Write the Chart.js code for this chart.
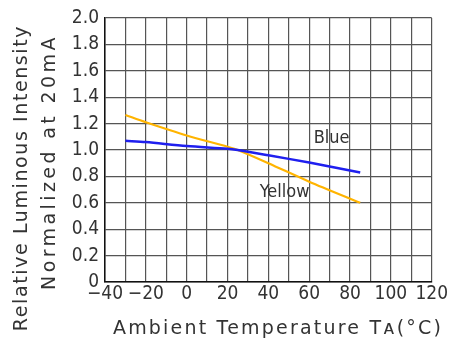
<!DOCTYPE html>
<html lang="en">
<head>
    <meta charset="UTF-8">
    <title>Relative Luminous Intensity vs Ambient Temperature</title>
    <script src="https://cdn.jsdelivr.net/npm/chart.js"></script>
    <style>
        html, body { margin: 0; padding: 0; background: #fff; }
        #wrap { width: 449px; height: 338px; }
    </style>
</head>
<body>
    <div id="wrap"><canvas id="myChart"></canvas></div>

    <script>
        // Data
        const temps = [-30, -20, 0, 20, 25, 40, 60, 85];
        const blueValues = [1.07, 1.06, 1.03, 1.01, 1.0, 0.96, 0.905, 0.83];
        const yellowValues = [1.265, 1.21, 1.11, 1.025, 1.0, 0.90, 0.76, 0.60];
        const xTickLabels = [-40, -20, 0, 20, 40, 60, 80, 100, 120];
        const yTickLabels = [0, 0.2, 0.4, 0.6, 0.8, 1.0, 1.2, 1.4, 1.6, 1.8, 2.0];
        const seriesNames = ['Blue', 'Yellow'];
        const labelSpots = [[71, 1.09], [48, 0.68]];

        const tickFont = { family: "'Liberation Sans Narrow', 'DejaVu Sans Condensed', sans-serif", size: 19 };
        const textColor = '#333';

        // axis titles and curve names, drawn on top
        const textPlugin = {
            id: 'texts',
            afterDraw(chart) {
                const c = chart.ctx;
                const xs = chart.scales.x, ys = chart.scales.y;
                c.save();
                c.fillStyle = textColor;
                c.textAlign = 'center';
                c.textBaseline = 'middle';
                c.font = "19px 'DejaVu Sans', sans-serif";
                c.letterSpacing = '2.2px';
                c.fillText('Ambient Temperature T\u1D00(\u00B0C)', 278, 329);

                c.translate(22, 178);
                c.rotate(-Math.PI / 2);
                c.letterSpacing = '1.6px';
                c.fillText('Relative Luminous Intensity', 0, 0);
                c.letterSpacing = '3.4px';
                c.fillText('Normalized at 20mA', 16, 28);
                c.restore();

                c.save();
                c.fillStyle = textColor;
                c.textAlign = 'center';
                c.textBaseline = 'middle';
                c.font = "18px 'Liberation Sans Narrow', 'DejaVu Sans Condensed', sans-serif";
                seriesNames.forEach((n, i) => {
                    c.fillText(n, xs.getPixelForValue(labelSpots[i][0]), ys.getPixelForValue(labelSpots[i][1]));
                });
                c.restore();
            }
        };

        const ctx = document.getElementById('myChart').getContext('2d');
        const myChart = new Chart(ctx, {
            type: 'line',
            data: {
                datasets: [{
                    label: 'Blue',
                    data: temps.map((t, i) => ({ x: t, y: blueValues[i] })),
                    borderColor: '#1f1fef',
                    borderWidth: 2.5,
                    pointRadius: 0,
                    tension: 0.3
                }, {
                    label: 'Yellow',
                    data: temps.map((t, i) => ({ x: t, y: yellowValues[i] })),
                    borderColor: '#ffb400',
                    borderWidth: 2.2,
                    pointRadius: 0,
                    tension: 0.3
                }]
            },
            options: {
                responsive: true,
                maintainAspectRatio: false,
                animation: false,
                layout: { padding: { top: 18, right: 16, left: 0, bottom: 0 } },
                plugins: { legend: { display: false }, tooltip: { enabled: false } },
                scales: {
                    x: {
                        type: 'linear',
                        min: -40,
                        max: 120,
                        grid: { color: '#555', lineWidth: 1.2, drawTicks: false },
                        border: { color: '#111', width: 1.5 },
                        ticks: {
                            stepSize: 10,
                            autoSkip: false,
                            maxRotation: 0,
                            padding: 1,
                            color: textColor,
                            font: tickFont,
                            callback: v => xTickLabels.includes(v) ? String(v).replace('-', '\u2212') : ''
                        },
                        afterFit(s) { s.height = 56; }
                    },
                    y: {
                        min: 0,
                        max: 2.0,
                        grid: { color: '#555', lineWidth: 1.2, drawTicks: false },
                        border: { color: '#111', width: 1.5 },
                        ticks: {
                            stepSize: 0.2,
                            padding: 6,
                            color: textColor,
                            font: tickFont,
                            callback: v => {
                                const t = yTickLabels.find(l => Math.abs(l - v) < 1e-6);
                                if (t === undefined) return '';
                                return t === 0 ? '0' : t.toFixed(1);
                            }
                        },
                        afterFit(s) { s.width = 105; }
                    }
                }
            },
            plugins: [textPlugin]
        });
    </script>
</body>
</html>
